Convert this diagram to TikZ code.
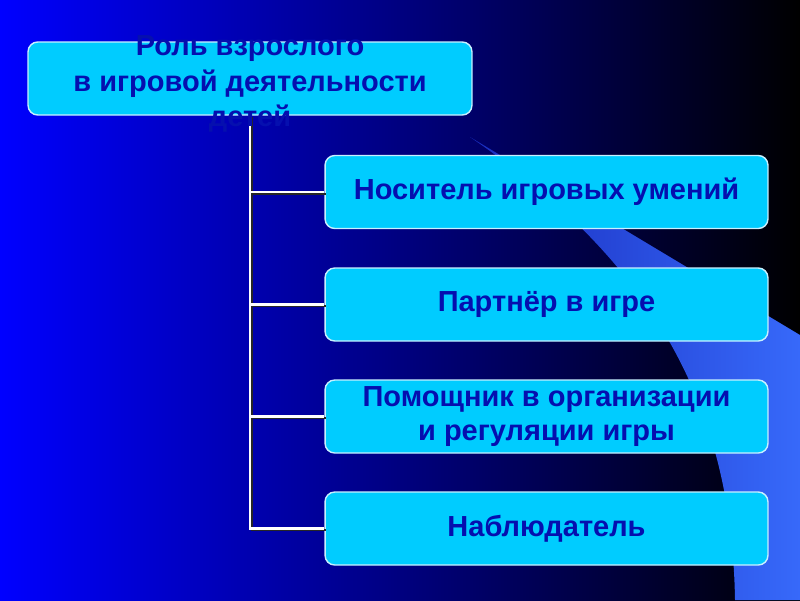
\documentclass[tikz,border=0pt]{standalone}
\usepackage{fontspec}
\setmainfont{Liberation Sans}
\definecolor{slideblue}{RGB}{0,0,255}
\definecolor{stripedark}{RGB}{25,45,190}
\definecolor{stripelight}{RGB}{55,105,250}
\definecolor{boxcyan}{RGB}{0,204,255}
\definecolor{boxrim}{RGB}{200,240,255}
\definecolor{labelblue}{RGB}{5,15,175}

\begin{document}
\begin{tikzpicture}[x=0.02cm, y=-0.02cm,
		rolebox/.style={draw=boxrim, line width=0.8pt, fill=boxcyan, rounded corners=5.5pt,
			minimum width=8.88cm, minimum height=1.46cm, inner sep=0pt},
		taskbox/.style={rolebox, minimum width=8.86cm, text=labelblue,
			font=\fontsize{16.5}{19}\selectfont\bfseries, align=center},
		branch/.style={draw=white, line width=1.2pt,
			preaction={draw=black!85, line width=1.2pt, transform canvas={xshift=1pt, yshift=-1pt}}}]
		\useasboundingbox (0,0) rectangle (800,600);
		% background
		\shade[left color=slideblue, right color=black] (0,0) rectangle (800,600);
		\shade[left color=stripedark, right color=stripelight]
			(470,137) -- (800,335) -- (800,600) -- (735,600) .. controls (732,420) and (665,270) .. cycle;

		% boxes
		\node[rolebox] (role) at (250,78.5) {};
		\node[taskbox] (carrier) at (546.5,192) {Носитель игровых умений};
		\node[taskbox] (partner) at (546.5,304.5) {Партнёр в игре};
		\node[taskbox] (helper) at (546.5,416.5) {Помощник в организации\\и регуляции игры};
		\node[taskbox] (observer) at (546.5,528.5) {Наблюдатель};

		\draw[branch] \foreach \t in {carrier,partner,helper,observer} {(role.south) |- (\t.west)};

		\node[text=labelblue, font=\fontsize{16.5}{20}\selectfont\bfseries, align=center] (roletext)
			at (250,84) {Роль взрослого\\в игровой деятельности\\детей};
	\end{tikzpicture}
\end{document}
